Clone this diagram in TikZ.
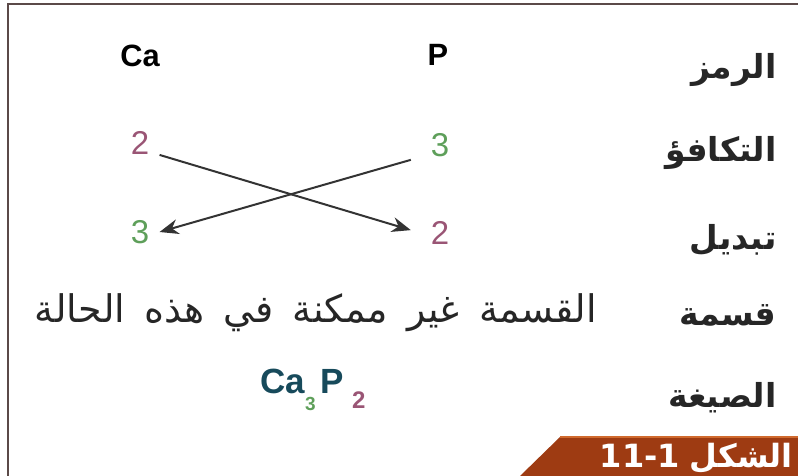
\documentclass[tikz,border=0pt]{standalone}
\usepackage{fontspec}
\setmainfont{Liberation Sans}
\newfontfamily\arabicfont[Script=Arabic]{DejaVu Sans}
\newfontfamily\arabicwide[Script=Arabic,WordSpace=1.6]{DejaVu Sans}
\TeXXeTstate=1
\usetikzlibrary{arrows.meta}
\definecolor{valpurple}{HTML}{9A5575}
\definecolor{valgreen}{HTML}{5E9F5A}
\definecolor{formteal}{HTML}{174A5B}
\definecolor{framegray}{HTML}{5B4A48}
\definecolor{barrust}{HTML}{9E3B12}
\definecolor{baredge}{HTML}{D06A2E}
\tikzset{
  sym/.style={inner sep=0pt,font=\fontsize{15.4}{18}\selectfont\bfseries},
  val/.style={inner xsep=5pt,inner ysep=0pt,font=\fontsize{16.5}{19}\selectfont},
  rowlbl/.style={anchor=east,inner sep=0pt,text=black!85,font=\fontsize{16.5}{19}\selectfont\arabicfont\bfseries},
  swaparrow/.style={line width=1pt,draw=black!80,-{Stealth[length=9.5pt,width=7.5pt]}}
}
\begin{document}
\begin{tikzpicture}[x=0.5pt,y=-0.5pt]
  \useasboundingbox (0,0) rectangle (798,476);
  % frame and footer bar
  \draw[framegray,line width=1.4pt] (8,476)--(8,4)--(798,4);
  \fill[barrust] (520,476)--(560,437)--(798,437)--(798,476)--cycle;
  \draw[baredge,line width=1pt] (560,437)--(798,437);
  \node[anchor=east,text=white,inner sep=0pt,font=\fontsize{16}{19}\selectfont\arabicfont\bfseries] (fig) at (793,458) {\beginR الشكل\hspace{5pt}\beginL 11-1\endL\endR};
  % symbols
  \node[sym] (ca) at (140,56) {Ca};
  \node[sym] (p) at (438,55) {P};
  \node[val,text=valpurple] (vca) at (140,143) {2};
  \node[val,text=valgreen] (vp) at (440,145) {3};
  \node[val,text=valgreen] (sca) at (140,232) {3};
  \node[val,text=valpurple] (sp) at (440,233) {2};
  \draw[swaparrow,shorten >=5pt] (vca.south east) -- (sp.west);
  \draw[swaparrow,shorten <=5pt] (vp.south west) -- (sca.east);
  % row labels
  \node[rowlbl] (lsym) at (777,70) {\beginR الرمز\endR};
  \node[rowlbl] (lval) at (777,153) {\beginR التكافؤ\endR};
  \node[rowlbl] (lswap) at (777,240) {\beginR تبديل\endR};
  \node[rowlbl] (ldiv) at (777,315) {\beginR قسمة\endR};
  \node[rowlbl] (lform) at (777,398) {\beginR الصيغة\endR};
  \node[rowlbl,font=\fontsize{19}{22}\selectfont\arabicwide] (divtxt) at (597,313) {\beginR القسمة غير ممكنة في هذه الحالة\endR};
  \node[inner sep=0pt,text=formteal,font=\fontsize{17.5}{20}\selectfont\bfseries] (form) at (313,390)
    {Ca\raisebox{-.5em}{\fontsize{9.5}{11}\selectfont\textcolor{valgreen}{3}}\hspace{2.5pt}P\hspace{4pt}\raisebox{-.42em}{\fontsize{12}{14}\selectfont\textcolor{valpurple}{2}}};
\end{tikzpicture}
\end{document}
